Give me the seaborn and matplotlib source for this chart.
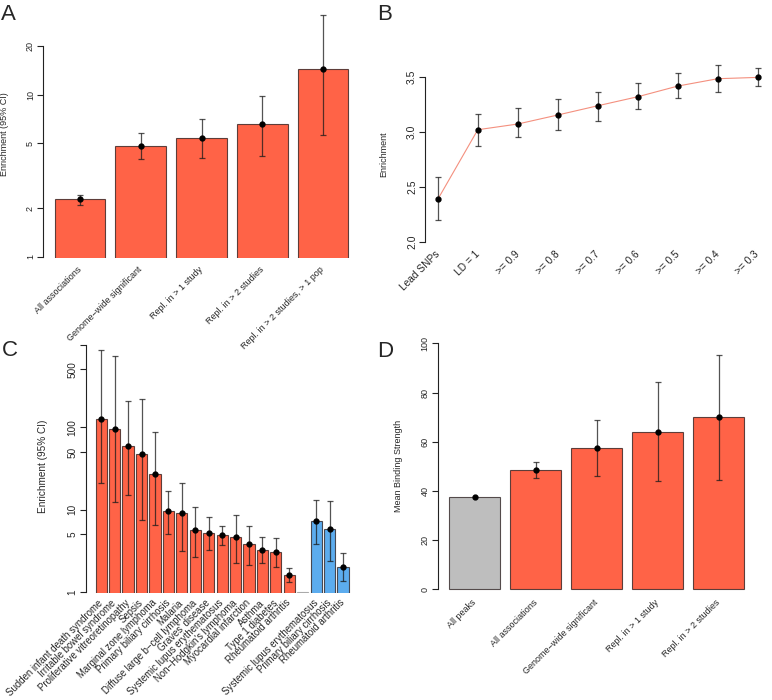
import seaborn as sns
import matplotlib.pyplot as plt
import pandas as pd
import numpy as np

# Panel A: enrichment by association class
a_labels = ["All associations", "Genome\u2212wide significant", "Repl. in > 1 study",
            "Repl. in > 2 studies", "Repl. in > 2 studies, > 1 pop"]
a_enrich = [2.26, 4.84, 5.42, 6.58, 14.4]
a_lo = [2.10, 4.03, 4.09, 4.19, 5.6]
a_hi = [2.42, 5.82, 7.03, 9.86, 30.8]

# Panel B: enrichment by LD threshold
b_labels = ["Lead SNPs", "LD = 1", ">= 0.9", ">= 0.8", ">= 0.7",
            ">= 0.6", ">= 0.5", ">= 0.4", ">= 0.3"]
b_enrich = [2.385, 3.018, 3.07, 3.152, 3.236, 3.318, 3.415, 3.482, 3.494]
b_lo = [2.197, 2.87, 2.955, 3.015, 3.10, 3.203, 3.309, 3.36, 3.415]
b_hi = [2.59, 3.16, 3.218, 3.294, 3.358, 3.442, 3.536, 3.606, 3.576]

# Panel C: enrichment per disease (red / blank / blue groups)
c_labels = ["Sudden infant death syndrome", "Irritable bowel syndrome",
            "Proliferative vitreoretinopathy", "Sepsis", "Marginal zone lymphoma",
            "Primary biliary cirrhosis", "Malaria", "Diffuse large b\u2212cell lymphoma",
            "Graves' disease", "Systemic lupus erythematosus", "Non\u2212Hodgkin's lymphoma",
            "Myocardial infarction", "Asthma", "Type 1 diabetes", "Rheumatoid arthritis",
            "", "Systemic lupus erythematosus", "Primary biliary cirrhosis",
            "Rheumatoid arthritis"]
c_group = ["red"] * 15 + ["blank"] + ["blue"] * 3
c_enrich = [126, 94.6, 58.9, 47.6, 27.2, 9.55, 9.03, 5.67, 5.27, 4.94, 4.63,
            3.84, 3.25, 3.10, 1.62, 1, 7.22, 5.84, 2.02]
c_lo = [21, 12.4, 15.0, 7.57, 6.46, 5.08, 3.16, 2.67, 3.25, 3.74, 2.28,
        2.14, 2.24, 2.04, 1.31, np.nan, 3.81, 2.37, 1.38]
c_hi = [861, 729, 206, 222, 87, 16.7, 21, 10.9, 8.15, 6.35, 8.62,
        6.35, 4.63, 4.54, 1.95, np.nan, 13.1, 12.6, 2.99]

# Panel D: mean binding strength
d_labels = ["All peaks", "All associations", "Genome\u2212wide significant",
            "Repl. in > 1 study", "Repl. in > 2 studies"]
d_group = ["grey", "red", "red", "red", "red"]
d_strength = [37.4, 48.4, 57.3, 64.0, 70.1]
d_lo = [np.nan, 45.1, 45.9, 43.9, 44.4]
d_hi = [np.nan, 51.9, 68.7, 84.1, 95.4]

palette = {"red": "#FF6347", "blue": "#5CACEE", "grey": "#BEBEBE", "blank": "white"}
edge = (0.1, 0.05, 0.05, 0.7)
err_col = (0.1, 0.1, 0.1, 0.75)

sns.set_style("white", {"axes.facecolor": "none"})
plt.rcParams["font.family"] = ["Liberation Sans", "DejaVu Sans"]
plt.rcParams["font.size"] = 6.5

fig = plt.figure(figsize=(7.72, 7.0), dpi=100)


def style_axis(ax, ticks, ticklabels, lo, hi, xlabels, xpad, fs=6.5, xfs=6.5):
    for s in ["top", "right", "bottom"]:
        ax.spines[s].set_visible(False)
    ax.spines["left"].set_bounds(lo, hi)
    ax.spines["left"].set_linewidth(0.8)
    ax.spines["left"].set_color("#222222")
    ax.minorticks_off()
    ax.set_yticks(ticks)
    ax.set_yticklabels(ticklabels)
    ax.tick_params(axis="y", left=True, length=4.3, width=0.8, color="#222222",
                   pad=1.5, labelsize=fs, labelrotation=90)
    for t in ax.get_yticklabels():
        t.set_va("center")
    ax.set_xticks(range(len(xlabels)))
    ax.set_xticklabels(xlabels, rotation=45, ha="right", va="center",
                       rotation_mode="anchor", fontsize=xfs)
    ax.tick_params(axis="x", length=0, pad=xpad)
    ax.set_xlabel("")


def bars(ax, labels, values, lo, hi, groups):
    df = pd.DataFrame({"slot": range(len(labels)), "value": values, "group": groups})
    sns.barplot(data=df, x="slot", y="value", hue="group", palette=palette,
                dodge=False, legend=False, width=0.833, edgecolor=edge, saturation=1,
                linewidth=0.8, errorbar=None, ax=ax)
    for p in ax.patches:
        if p.get_facecolor()[:3] == (1.0, 1.0, 1.0):
            p.set_edgecolor("#AAAAAA")
    v = np.array(values, dtype=float)
    yerr = [v - np.array(lo, dtype=float), np.array(hi, dtype=float) - v]
    ax.errorbar(df["slot"], v, yerr=yerr, fmt="none", ecolor=err_col,
                elinewidth=0.9, capsize=2.5, capthick=0.9, zorder=3)
    shown = df["group"] != "blank"
    ax.plot(df["slot"][shown], v[shown], "o", color="black", ms=3.5, zorder=4)


# A
ax = fig.add_axes([43 / 772, 1 - 258 / 700, 317 / 772, 248 / 700])
bars(ax, a_labels, a_enrich, a_lo, a_hi, ["red"] * 5)
ax.set_yscale("log")
ax.set_ylim(0.985, 33.2)
ax.set_xlim(-0.61, 4.61)
style_axis(ax, [1, 2, 5, 10, 20], ["1", "2", "5", "10", "20"], 1, 20, a_labels, 7)
ax.set_ylabel("Enrichment (95% CI)", fontsize=6.5)
ax.yaxis.set_label_coords(-0.107, 0.5)

# B
ax = fig.add_axes([425 / 772, 1 - 248.7 / 700, 345.5 / 772, 190 / 700])
xb = np.arange(len(b_labels))
sns.lineplot(x=xb, y=b_enrich, color="#F4907F", linewidth=0.8, ax=ax)
vb = np.array(b_enrich)
ax.errorbar(xb, vb, yerr=[vb - np.array(b_lo), np.array(b_hi) - vb], fmt="none",
            ecolor=err_col, elinewidth=0.9, capsize=2.5, capthick=0.9, zorder=3)
ax.plot(xb, vb, "o", color="black", ms=3.5, zorder=4)
ax.set_ylim(1.936, 3.664)
ax.set_xlim(-0.32, 8.32)
style_axis(ax, [2.0, 2.5, 3.0, 3.5], ["2.0", "2.5", "3.0", "3.5"], 2.0, 3.5, b_labels,
           2.5, fs=7.5, xfs=7.3)
ax.set_ylabel("Enrichment", fontsize=6.5)
ax.yaxis.set_label_coords(-0.107, 0.5)

# C
ax = fig.add_axes([85.5 / 772, 1 - 592.7 / 700, 273.3 / 772, 252.7 / 700])
bars(ax, c_labels, c_enrich, c_lo, c_hi, c_group)
ax.set_yscale("log")
ax.set_ylim(0.985, 1137)
ax.set_xlim(-1.17, 19.17)
style_axis(ax, [1, 5, 10, 50, 100, 500, 1000], ["1", "5", "10", "50", "100", "500", ""],
           1, 1000, c_labels, 6.2, fs=7.2, xfs=6.9)
ax.set_ylabel("Enrichment (95% CI)", fontsize=7.2)
ax.yaxis.set_label_coords(-0.137, 0.5)

# D
ax = fig.add_axes([437.7 / 772, 1 - 599 / 700, 318.3 / 772, 265.5 / 700])
bars(ax, d_labels, d_strength, d_lo, d_hi, d_group)
ax.set_ylim(-4, 104)
ax.set_xlim(-0.61, 4.61)
style_axis(ax, [0, 20, 40, 60, 80, 100], ["0", "20", "40", "60", "80", "100"], 0, 100,
           d_labels, 1.5)
ax.set_ylabel("Mean Binding Strength", fontsize=6.5)
ax.yaxis.set_label_coords(-0.109, 0.5)

# panel letters
for letter, x, y in [("A", 1, 4), ("B", 377, 4), ("C", 2, 340), ("D", 377, 341)]:
    fig.text(x / 772, 1 - y / 700, letter, fontsize=16, ha="left", va="top")

fig.savefig("out.png", dpi=100)
